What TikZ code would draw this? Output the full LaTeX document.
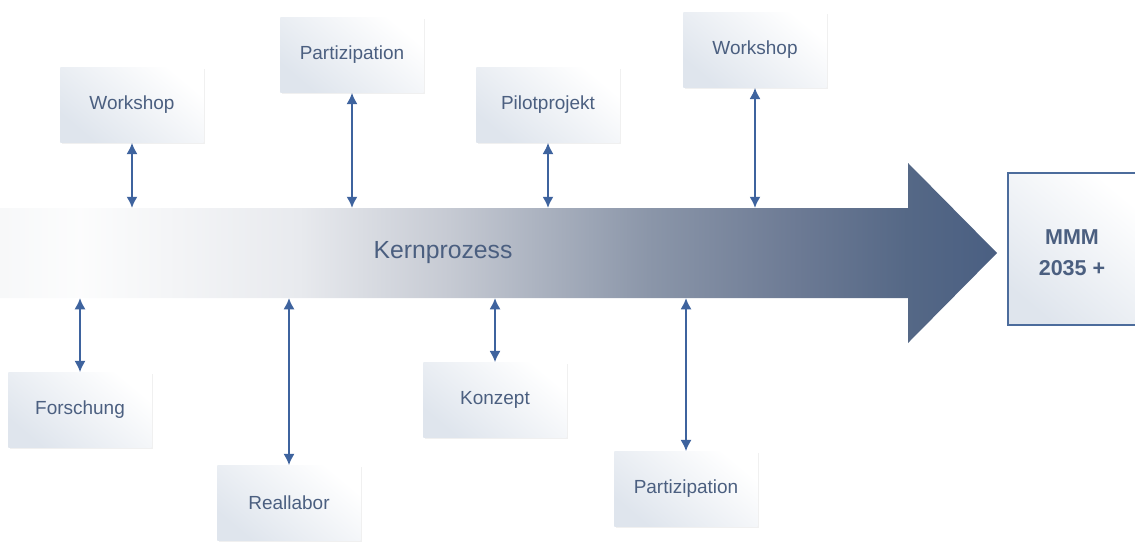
\documentclass[tikz,border=0pt]{standalone}
\usepackage{fontspec}
\setmainfont{Liberation Sans}
\usetikzlibrary{arrows.meta, shadows}

\definecolor{schrift}{HTML}{4B5F80}
\definecolor{pfeil}{HTML}{3E639E}
\definecolor{boxhell}{HTML}{DFE5ED}
\definecolor{kern0}{HTML}{F7F8F9}
\definecolor{kernA}{HTML}{E8EAEE}
\definecolor{kernB}{HTML}{C6CAD3}
\definecolor{kernC}{HTML}{8B96A9}
\definecolor{kernD}{HTML}{6C7A94}
\definecolor{kernE}{HTML}{556886}
\definecolor{kernF}{HTML}{4A5F82}
\definecolor{mmmrand}{HTML}{4C6C9C}

\pgfdeclarehorizontalshading{kernshade}{100bp}{color(0bp)=(kern0); color(25bp)=(kern0); color(29bp)=(white!60!kern0); color(40bp)=(kernA); color(47.5bp)=(kernB); color(57.5bp)=(kernC); color(65bp)=(kernD); color(70.5bp)=(kernE); color(75bp)=(kernF); color(100bp)=(kernF)}

\tikzset{
  etappe/.style={minimum width=3.575cm, minimum height=1.875cm, inner sep=0pt,
    top color=white, bottom color=boxhell, shading angle=-40,
    drop shadow={opacity=0.12, shadow xshift=1pt, shadow yshift=-1pt},
    text=schrift, font=\fontsize{13.5}{16}\selectfont},
  dpfeil/.style={{Latex[length=8pt,width=8pt]}-{Latex[length=8pt,width=8pt]}, line width=1.6pt, draw=pfeil}
}

\begin{document}
\begin{tikzpicture}[x=0.025cm, y=-0.025cm]
  \useasboundingbox (0,0) rectangle (1135,541);

  % Großer Prozesspfeil
  \shade[shading=kernshade] (0,208) -- (908,208) -- (908,163) -- (997,253)
    -- (908,343) -- (908,298) -- (0,298) -- cycle;
  \coordinate (oben) at (0,208);
  \coordinate (unten) at (0,298);
  \node[text=schrift, font=\fontsize{17.6}{20}\selectfont] (kern) at (443,253) {Kernprozess};

  % Ziel
  \node[minimum width=3.35cm, minimum height=3.8cm, inner sep=0pt, anchor=north west,
    draw=mmmrand, line width=1.4pt, top color=white, bottom color=boxhell, shading angle=-40]
    (ziel) at (1007,172) {};
  \node[text=schrift, font=\bfseries\fontsize{15.3}{22}\selectfont, align=center]
    (zieltext) at (1072,253) {MMM\\2035 +};

  % Etappen oberhalb
  \node[etappe] (ws1) at (132,105) {Workshop};
  \node[etappe] (part1) at (352,55) {Partizipation};
  \node[etappe] (pilot) at (548,105) {Pilotprojekt};
  \node[etappe] (ws2) at (755,50) {Workshop};

  % Etappen unterhalb
  \node[etappe] (forsch) at (80,410) {Forschung};
  \node[etappe] (real) at (289,503) {Reallabor};
  \node[etappe] (konz) at (495,400) {Konzept};
  \node[etappe] (part2) at (686,489) {Partizipation};

  % Verbindungen zum Kernprozess
  \draw[dpfeil] (ws1.south) -- (ws1.south |- oben);
  \draw[dpfeil] (part1.south) -- (part1.south |- oben);
  \draw[dpfeil] (pilot.south) -- (pilot.south |- oben);
  \draw[dpfeil] (ws2.south) -- (ws2.south |- oben);
  \draw[dpfeil] (forsch.north) -- (forsch.north |- unten);
  \draw[dpfeil] (real.north) -- (real.north |- unten);
  \draw[dpfeil] (konz.north) -- (konz.north |- unten);
  \draw[dpfeil] (part2.north) -- (part2.north |- unten);
\end{tikzpicture}
\end{document}
